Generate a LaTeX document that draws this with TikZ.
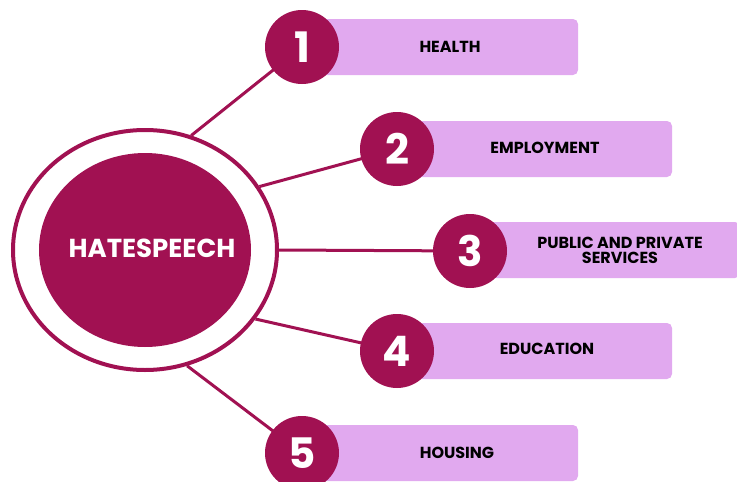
\documentclass[tikz,border=0pt]{standalone}
\usepackage{fontspec}
\setmainfont{Poppins}
\usetikzlibrary{shapes.geometric}
\definecolor{plum}{HTML}{A11152}
\definecolor{lilac}{HTML}{E1A9EF}
\tikzset{
  numcirc/.style={circle, fill=plum, minimum size=74pt, inner sep=0pt, text=white, font=\fontsize{42}{42}\selectfont\bfseries},
  labelbox/.style={rectangle, rounded corners=5pt, fill=lilac, minimum height=56pt, inner sep=0pt},
  labeltext/.style={align=center, inner sep=0pt, font=\fontsize{16}{15}\selectfont\bfseries},
  spoke/.style={draw=plum, line width=3pt}
}
\begin{document}
\begin{tikzpicture}[x=1pt, y=-1pt]
\useasboundingbox (0,0) rectangle (737,482);
% label boxes (left part hidden under the number circles)
\node[labelbox, minimum width=276pt] (r1) at (440,47) {};
\node[labelbox, minimum width=275pt] (r2) at (534.5,149) {};
\node[labelbox, minimum width=270pt] (r3) at (605,250) {};
\node[labelbox, minimum width=275pt] (r4) at (534.5,351) {};
\node[labelbox, minimum width=276pt] (r5) at (440,453) {};
\node[labeltext] (t1) at (450,47) {HEALTH};
\node[labeltext] (t2) at (545,148) {EMPLOYMENT};
\node[labeltext] (t3) at (620,250) {PUBLIC AND PRIVATE\\SERVICES};
\node[labeltext] (t4) at (547,349) {EDUCATION};
\node[labeltext] (t5) at (457,453) {HOUSING};
% central ellipses
\node[ellipse, draw=plum, line width=4pt, minimum width=264pt, minimum height=240pt, inner sep=0pt] (outer) at (145,250) {};
\node[ellipse, fill=plum, minimum width=212pt, minimum height=194pt, inner sep=0pt] (hs) at (145,250) {};
\node[text=white, inner sep=0pt, font=\fontsize{26}{26}\selectfont\bfseries] (hst) at (152,248) {HATESPEECH};
% spokes
\coordinate (c1p) at (302,47);
\coordinate (c2p) at (397,149);
\coordinate (c3p) at (470,251);
\coordinate (c4p) at (397,351);
\coordinate (c5p) at (302,453);
\draw[spoke] (outer.68) -- (c1p);
\draw[spoke] (outer.29) -- (c2p);
\draw[spoke] (outer.east) -- (c3p);
\draw[spoke] (outer.-32) -- (c4p);
\draw[spoke] (outer.-70) -- (c5p);
% number circles
\node[numcirc] (c1) at (c1p) {1};
\node[numcirc] (c2) at (c2p) {2};
\node[numcirc] (c3) at (c3p) {3};
\node[numcirc] (c4) at (c4p) {4};
\node[numcirc] (c5) at (c5p) {5};
\end{tikzpicture}
\end{document}
